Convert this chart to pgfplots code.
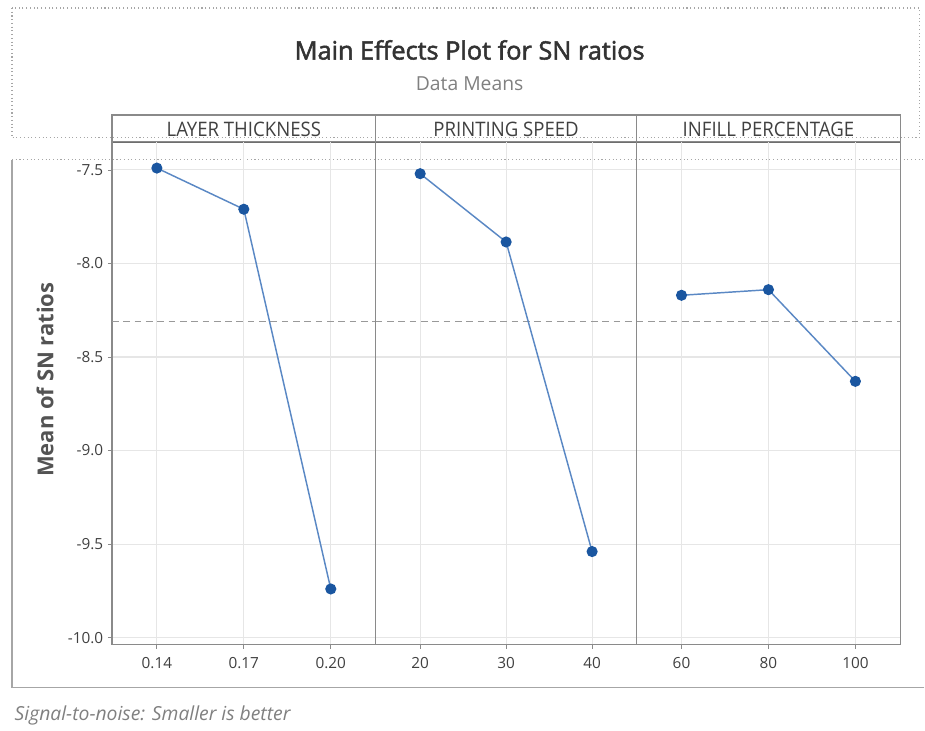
\documentclass[border=0pt]{standalone}
\usepackage{pgfplots}
\pgfplotsset{compat=1.18}
\usepackage{fontspec}
\setmainfont{Open Sans}
\newfontfamily\titlefont[FakeBold=2]{Open Sans}
\newfontfamily\headfont[FakeStretch=0.93]{Open Sans}
\definecolor{gridc}{HTML}{E6E6E6}
\definecolor{framec}{HTML}{8A8A8A}
\definecolor{linec}{HTML}{5A88C4}
\definecolor{markc}{HTML}{1A56A0}
\definecolor{txtc}{HTML}{404040}
\newcommand{\U}{0.75pt}
\pgfplotsset{
  panel/.style={
    scale only axis,
    height=503*\U,
    ymin=-10.037, ymax=-7.35,
    xmin=-0.517, xmax=2.517,
    xtick={0,1,2},
    ytick={-10,-9.5,-9,-8.5,-8,-7.5},
    xtick pos=bottom, ytick pos=left,
    grid=major,
    major grid style={gridc, line width=0.8pt},
    axis line style={framec, line width=0.9pt},
    tick style={framec, line width=0.6pt},
    tick align=outside,
    major tick length=3pt,
    x tick label style={font=\fontsize{11.5}{13}\selectfont, text=txtc, yshift=-3pt},
    y tick label style={font=\fontsize{11.5}{13}\selectfont, text=txtc},
    /pgf/number format/assume math mode=true,
  },
  series/.style={color=linec, line width=1.1pt, mark=*, mark size=3.6pt,
    mark options={fill=markc, draw=markc}},
  ref/.style={color=gray!80, dash pattern=on 5pt off 3.5pt, line width=0.7pt},
}
\begin{document}
\begin{tikzpicture}
% canvas
\path (0,0) rectangle (925*\U,731*\U);
% title box (dotted)
\draw[gray!70, dotted, line width=0.8pt] (12*\U,{(731-8)*\U}) rectangle (920*\U,{(731-138)*\U});
% plot frame
\draw[gray!70, dotted, line width=0.8pt] (12*\U,{(731-160)*\U}) -- (925*\U,{(731-160)*\U});
\draw[gray!70, line width=1pt] (925*\U,{(731-688)*\U}) -- (12*\U,{(731-688)*\U}) -- (12*\U,{(731-160)*\U});
% titles
\node[font=\titlefont\fontsize{19}{22}\selectfont, text=black!80] at (470*\U,{(731-50)*\U}) {Main Effects Plot for SN ratios};
\node[font=\fontsize{14.5}{17}\selectfont, text=gray] at (470*\U,{(731-84)*\U}) {Data Means};
% header strip
\draw[framec, line width=1pt] (112*\U,{(731-115)*\U}) rectangle (901*\U,{(731-142)*\U});
\draw[framec!80!black, line width=1.6pt] (112*\U,{(731-142)*\U}) -- (901*\U,{(731-142)*\U});
\draw[framec, line width=1pt] (376*\U,{(731-115)*\U}) -- (376*\U,{(731-142)*\U});
\draw[framec, line width=1pt] (637*\U,{(731-115)*\U}) -- (637*\U,{(731-142)*\U});
\node[font=\headfont\fontsize{15}{17}\selectfont, text=txtc] at (244*\U,{(731-129.5)*\U}) {LAYER THICKNESS};
\node[font=\headfont\fontsize{15}{17}\selectfont, text=txtc] at (506.5*\U,{(731-129.5)*\U}) {PRINTING SPEED};
\node[font=\headfont\fontsize{15}{17}\selectfont, text=txtc] at (769*\U,{(731-129.5)*\U}) {INFILL PERCENTAGE};
% y label
\node[rotate=90, font=\bfseries\fontsize{16.5}{19}\selectfont, text=txtc!90!white] at (45*\U,{(731-380)*\U}) {Mean of SN ratios};
% footer
\node[anchor=west, font=\itshape\fontsize{14.5}{17}\selectfont, text=gray] at (10*\U,{(731-716)*\U}) {Signal-to-noise: Smaller is better};

% panel 1
\begin{axis}[panel, at={(112*\U,{(731-645)*\U})}, anchor=south west, width=264*\U,
  xticklabels={0.14,0.17,0.20},
  y tick label style={/pgf/number format/fixed, /pgf/number format/fixed zerofill, /pgf/number format/precision=1}]
\addplot[ref] coordinates {(-0.517,-8.31) (2.517,-8.31)};
\addplot[series] coordinates {(0,-7.49) (1,-7.71) (2,-9.74)};
\end{axis}
% panel 2
\begin{axis}[panel, at={(376*\U,{(731-645)*\U})}, anchor=south west, width=261*\U,
  xticklabels={20,30,40}, yticklabels={}, ytick style={draw=none}]
\addplot[ref] coordinates {(-0.517,-8.31) (2.517,-8.31)};
\addplot[series] coordinates {(0,-7.52) (1,-7.885) (2,-9.54)};
\end{axis}
% panel 3
\begin{axis}[panel, at={(637*\U,{(731-645)*\U})}, anchor=south west, width=264*\U,
  xticklabels={60,80,100}, yticklabels={}, ytick style={draw=none}]
\addplot[ref] coordinates {(-0.517,-8.31) (2.517,-8.31)};
\addplot[series] coordinates {(0,-8.17) (1,-8.14) (2,-8.63)};
\end{axis}
\end{tikzpicture}
\end{document}
